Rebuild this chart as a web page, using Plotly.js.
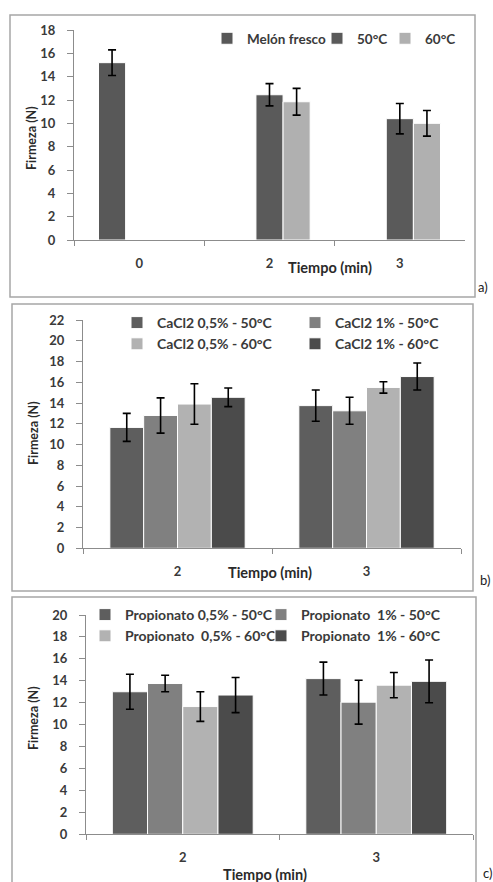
<!DOCTYPE html>
<html>
<head>
<meta charset="utf-8">
<script src="https://cdn.plot.ly/plotly-3.0.1.min.js"></script>
<style>html,body{margin:0;padding:0;background:#fff}#chart{width:493px;height:882px}</style>
</head>
<body>
<div id="chart"></div>
<script>
// ---- Panel a ----
const catsA = ["0", "2", "3"];
const namesA = ["Melón fresco", "50°C", "60°C"];
const meanMelon = [15.2, null, null];
const errMelon = [1.1, null, null];
const mean50 = [null, 12.45, 10.4];
const err50 = [null, 0.95, 1.3];
const mean60 = [null, 11.85, 10.0];
const err60 = [null, 1.15, 1.1];

// ---- Panel b ----
const catsB = ["2", "3"];
const namesB = ["CaCl2 0,5% - 50°C", "CaCl2 1% - 50°C", "CaCl2 0,5% - 60°C", "CaCl2 1% - 60°C"];
const meanCa05_50 = [11.65, 13.75];
const errCa05_50 = [1.35, 1.5];
const meanCa1_50 = [12.8, 13.25];
const errCa1_50 = [1.7, 1.3];
const meanCa05_60 = [13.9, 15.5];
const errCa05_60 = [1.95, 0.55];
const meanCa1_60 = [14.55, 16.55];
const errCa1_60 = [0.9, 1.3];

// ---- Panel c ----
const catsC = ["2", "3"];
const namesC = ["Propionato 0,5% - 50°C", "Propionato  1% - 50°C", "Propionato  0,5% - 60°C", "Propionato  1% - 60°C"];
const meanPr05_50 = [13.0, 14.2];
const errPr05_50 = [1.6, 1.5];
const meanPr1_50 = [13.75, 12.05];
const errPr1_50 = [0.75, 2.0];
const meanPr05_60 = [11.65, 13.6];
const errPr05_60 = [1.35, 1.15];
const meanPr1_60 = [12.7, 13.95];
const errPr1_60 = [1.6, 1.95];

const W = 493, H = 882;
const px = v => v / W;
const py = v => 1 - v / H;

const FONT = "Lato, 'Open Sans', sans-serif";
const txt = "#3a3a3a";
const axisCol = "#8c8c8c";

function bar(x, y, e, name, color, xa, ya, legend, w, off) {
  return {
    type: "bar", x: x, y: y, name: name,
    xaxis: xa, yaxis: ya, legend: legend,
    width: w, offset: off,
    marker: {color: color, line: {color: "#ffffff", width: 1}},
    error_y: {type: "data", array: e, visible: true, color: "#000000", thickness: 1.6, width: 4},
    hoverinfo: "skip"
  };
}

const wA = 0.208, wB = 0.179, wC = 0.182;
const colA = ["#585858", "#5a5a5a", "#b0b0b0"];
const colBC = ["#5e5e5e", "#808080", "#b2b2b2", "#4b4b4b"];

const data = [
  bar(catsA, meanMelon, errMelon, namesA[0], colA[0], "x", "y", "legend", wA, -1.5 * wA),
  bar(catsA, mean50, err50, namesA[1], colA[1], "x", "y", "legend6", wA, -0.5 * wA),
  bar(catsA, mean60, err60, namesA[2], colA[2], "x", "y", "legend7", wA, 0.5 * wA),

  bar(catsB, meanCa05_50, errCa05_50, namesB[0], colBC[0], "x2", "y2", "legend2", wB, -2 * wB),
  bar(catsB, meanCa1_50, errCa1_50, namesB[1], colBC[1], "x2", "y2", "legend3", wB, -1 * wB),
  bar(catsB, meanCa05_60, errCa05_60, namesB[2], colBC[2], "x2", "y2", "legend2", wB, 0),
  bar(catsB, meanCa1_60, errCa1_60, namesB[3], colBC[3], "x2", "y2", "legend3", wB, wB),

  bar(catsC, meanPr05_50, errPr05_50, namesC[0], colBC[0], "x3", "y3", "legend4", wC, -2 * wC),
  bar(catsC, meanPr1_50, errPr1_50, namesC[1], colBC[1], "x3", "y3", "legend5", wC, -1 * wC),
  bar(catsC, meanPr05_60, errPr05_60, namesC[2], colBC[2], "x3", "y3", "legend4", wC, 0),
  bar(catsC, meanPr1_60, errPr1_60, namesC[3], colBC[3], "x3", "y3", "legend5", wC, wC)
];

function xaxis(dom, anchor, cats) {
  return {
    domain: dom, anchor: anchor, type: "category",
    categoryorder: "array", categoryarray: cats,
    range: [-0.5, cats.length - 0.5],
    showline: true, linecolor: axisCol, linewidth: 1,
    ticks: "outside", tickson: "boundaries", ticklen: 5, tickcolor: axisCol,
    ticklabelstandoff: 11,
    tickfont: {family: FONT, size: 13, color: txt, weight: "bold"},
    showgrid: false, zeroline: false, fixedrange: true
  };
}
function yaxis(dom, anchor, max) {
  return {
    domain: dom, anchor: anchor, range: [0, max], dtick: 2, tick0: 0,
    showline: true, linecolor: axisCol, linewidth: 1,
    ticks: "outside", ticklen: 6, tickcolor: axisCol,
    ticklabelstandoff: 9,
    tickfont: {family: FONT, size: 13, color: txt, weight: "bold"},
    showgrid: false, zeroline: false, fixedrange: true
  };
}

function legend(xl, ytop, size) {
  return {
    x: px(xl), y: py(ytop), xanchor: "left", yanchor: "top",
    orientation: "v", bgcolor: "rgba(0,0,0,0)", borderwidth: 0,
    font: {family: FONT, size: size, color: txt, weight: "bold"},
    traceorder: "normal", itemclick: false, itemdoubleclick: false
  };
}

function frame(x0, y0, x1, y1) {
  return {type: "rect", xref: "paper", yref: "paper", x0: px(x0), x1: px(x1), y0: py(y0), y1: py(y1),
    line: {color: "#a6a6a6", width: 1.5}, fillcolor: "rgba(0,0,0,0)", layer: "below"};
}
function ann(text, x, y, size, extra) {
  return Object.assign({text: text, xref: "paper", yref: "paper", x: px(x), y: py(y),
    showarrow: false, xanchor: "center", yanchor: "middle",
    font: {family: FONT, size: size, color: "#2a2a2a", weight: "bold"}}, extra || {});
}

const layout = {
  width: W, height: H,
  margin: {l: 0, r: 0, t: 0, b: 0},
  paper_bgcolor: "#ffffff", plot_bgcolor: "rgba(0,0,0,0)",
  showlegend: true,
  barmode: "group",
  xaxis: xaxis([px(74), px(465)], "y", catsA),
  yaxis: yaxis([py(240), py(30)], "x", 18),
  xaxis2: xaxis([px(83), px(461)], "y2", catsB),
  yaxis2: yaxis([py(548.3), py(320)], "x2", 22),
  xaxis3: xaxis([px(86), px(473)], "y3", catsC),
  yaxis3: yaxis([py(834.3), py(615)], "x3", 20),
  legend: legend(207, 23, 13.5),
  legend6: legend(317, 23, 13.5),
  legend7: legend(385, 23, 13.5),
  legend2: legend(117, 307, 14),
  legend3: legend(295, 307, 14),
  legend4: legend(85, 599, 14),
  legend5: legend(261, 599, 14),
  shapes: [
    frame(10, 15, 475, 297),
    frame(12, 304, 473, 591),
    frame(12, 597, 476, 900)
  ],
  annotations: [
    ann("Firmeza (N)", 32, 138, 12.5, {textangle: -90}),
    ann("Firmeza (N)", 33, 433, 12.5, {textangle: -90}),
    ann("Firmeza (N)", 33, 718, 12.5, {textangle: -90}),
    ann("Tiempo (min)", 330, 268, 14.5),
    ann("Tiempo (min)", 270, 572, 14.5),
    ann("Tiempo (min)", 265, 874, 14.5),
    ann("a)", 483, 287, 13, {font: {family: FONT, size: 13, color: "#222"}}),
    ann("b)", 485, 580, 13, {font: {family: FONT, size: 13, color: "#222"}}),
    ann("c)", 487, 873, 13, {font: {family: FONT, size: 13, color: "#222"}})
  ]
};

Plotly.newPlot("chart", data, layout, {staticPlot: true, displayModeBar: false});
</script>
</body>
</html>
